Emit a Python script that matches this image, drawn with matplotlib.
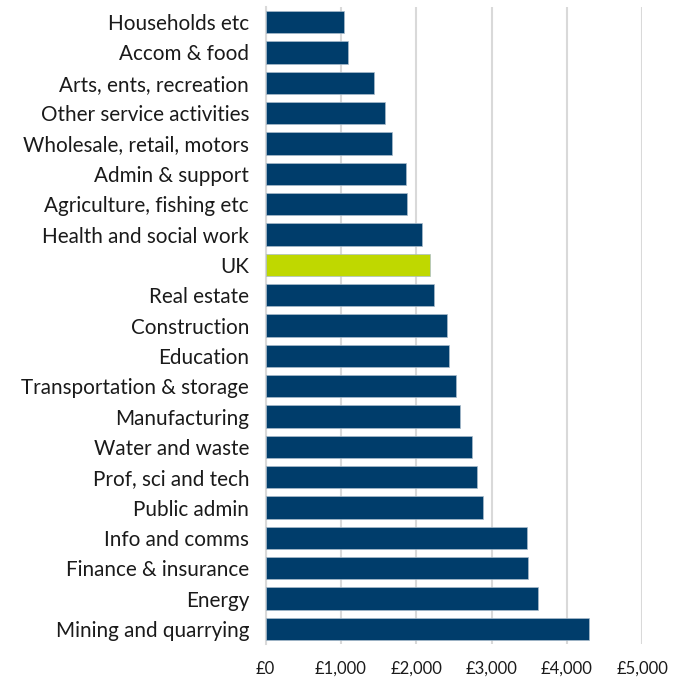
import numpy as np
import matplotlib
matplotlib.use("Agg")
import matplotlib.pyplot as plt
from matplotlib.ticker import FuncFormatter

# sectors, top to bottom as shown
sectors = ["Households etc", "Accom & food", "Arts, ents, recreation",
           "Other service activities", "Wholesale, retail, motors",
           "Admin & support", "Agriculture, fishing etc",
           "Health and social work", "UK", "Real estate", "Construction",
           "Education", "Transportation & storage", "Manufacturing",
           "Water and waste", "Prof, sci and tech", "Public admin",
           "Info and comms", "Finance & insurance", "Energy",
           "Mining and quarrying"]
values = [1036, 1089, 1438, 1589, 1681, 1859, 1876, 2072, 2186, 2239, 2410,
          2430, 2523, 2576, 2736, 2810, 2886, 3466, 3479, 3616, 4289]

navy = "#003D6B"
lime = "#BFD800"
colours = [lime if s == "UK" else navy for s in sectors]

plt.rcParams["font.family"] = ["Lato", "DejaVu Sans"]

fig = plt.figure(figsize=(6.86, 6.79), dpi=100)
ax = fig.add_axes([0.3873, 0.0515, 0.549, 0.9382])

y = np.arange(len(sectors))
ax.barh(y, values, height=0.74, color=colours, edgecolor="#A9BCCC",
        linewidth=0.5, zorder=3)
ax.set_ylim(len(sectors) - 0.5, -0.5)
ax.set_yticks(y)
ax.set_yticklabels(sectors, fontsize=14.9, color="#1A1A1A")

ax.set_xlim(0, 5000)
ax.set_xticks(np.arange(0, 5001, 1000))
ax.xaxis.set_major_formatter(FuncFormatter(lambda v, p: "£{:,.0f}".format(v)))
ax.tick_params(axis="x", labelsize=12, colors="#1A1A1A", length=0, pad=12)
ax.tick_params(axis="y", length=0, pad=12)

ax.grid(axis="x", color="#D9D9D9", linewidth=1.5, zorder=0)
for side in ["top", "right", "bottom"]:
    ax.spines[side].set_visible(False)
ax.spines["left"].set_color("#D9D9D9")
ax.spines["left"].set_linewidth(1.5)

fig.savefig("out.png", dpi=100)
